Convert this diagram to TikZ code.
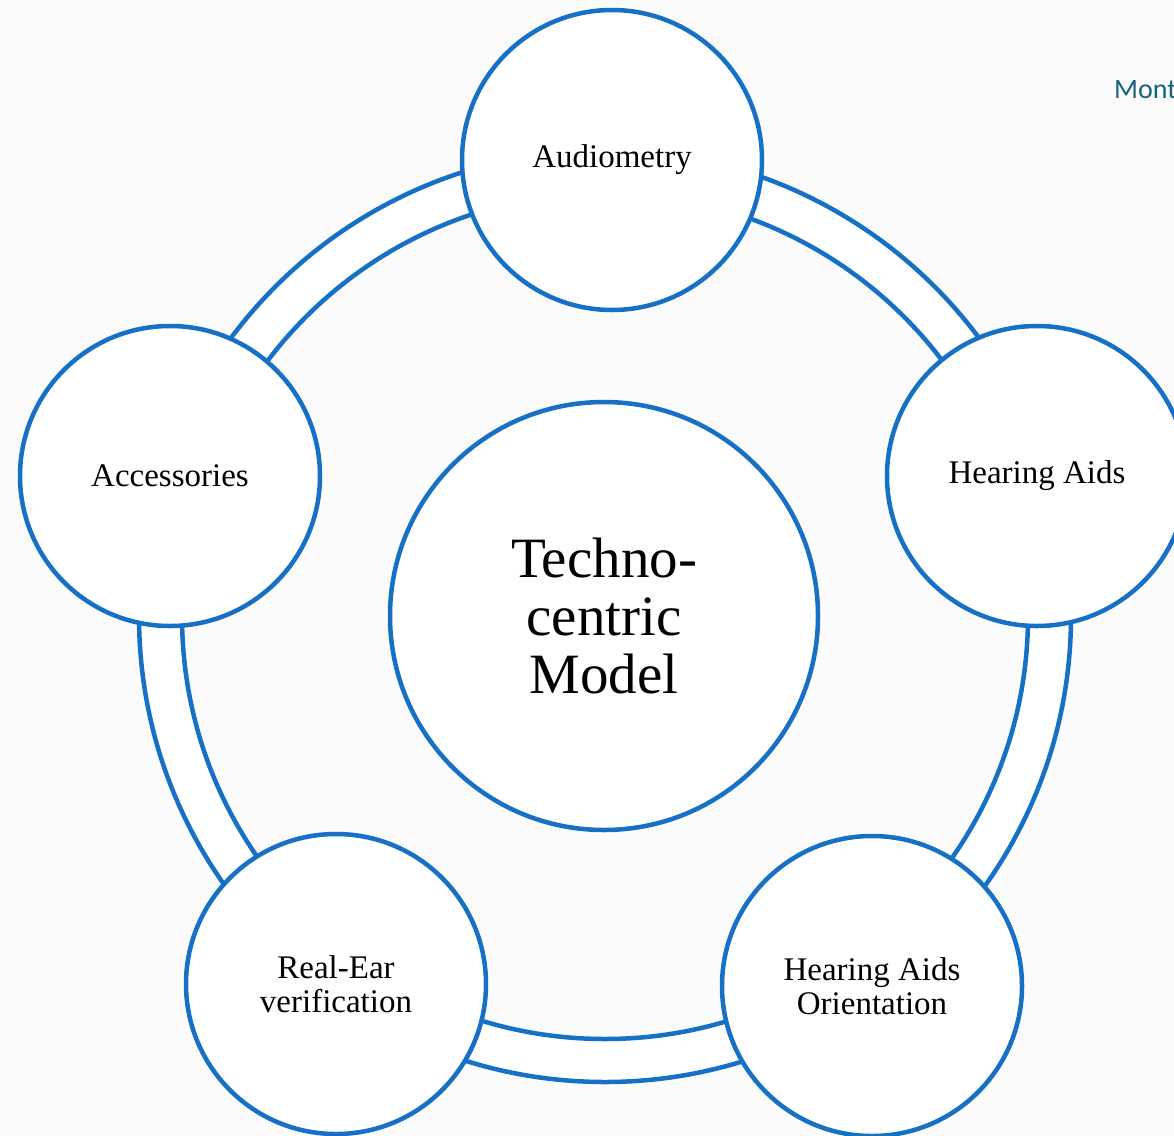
\documentclass[tikz,border=0pt]{standalone}
\usepackage{fontspec}
\setmainfont{Liberation Serif}
\newfontfamily\montfont{Carlito}
\definecolor{ringblue}{RGB}{21,112,198}
\definecolor{montteal}{RGB}{22,100,122}
\definecolor{bgcol}{RGB}{251,251,251}
\begin{document}
\begin{tikzpicture}[x=1pt,y=-1pt,
  petal/.style={circle,draw=ringblue,line width=4.5pt,fill=white,minimum size=300pt,inner sep=0pt,align=center,
    font=\fontsize{33}{34}\selectfont},
  hub/.style={circle,draw=ringblue,line width=4.5pt,fill=white,minimum size=428pt,inner sep=0pt,align=center,
    font=\fontsize{57}{58}\selectfont},
  band/.style={draw=ringblue,line width=4.5pt,fill=white,even odd rule}]
\useasboundingbox (0,0) rectangle (1174,1135);
\clip (0,0) rectangle (1174,1135);
\fill[bgcol] (0,0) rectangle (1174,1135);
\coordinate (c) at (605,616);
\path[band] (c) circle[radius=466] (c) circle[radius=423];
\node[hub] (center) at (604,616) {Techno-\\centric\\Model};
\node[petal] (audio) at (612,160) {Audiometry};
\node[petal] (aids) at (1037,476) {Hearing Aids};
\node[petal] (orient) at (872,986) {Hearing Aids\\Orientation};
\node[petal] (rem) at (336,984) {Real-Ear\\verification};
\node[petal] (acc) at (170,476) {Accessories};
\node[anchor=base west,text=montteal,font=\montfont\fontsize{28}{30}\selectfont,inner sep=0pt] (mont) at (1114,98) {Mont};
\end{tikzpicture}
\end{document}
